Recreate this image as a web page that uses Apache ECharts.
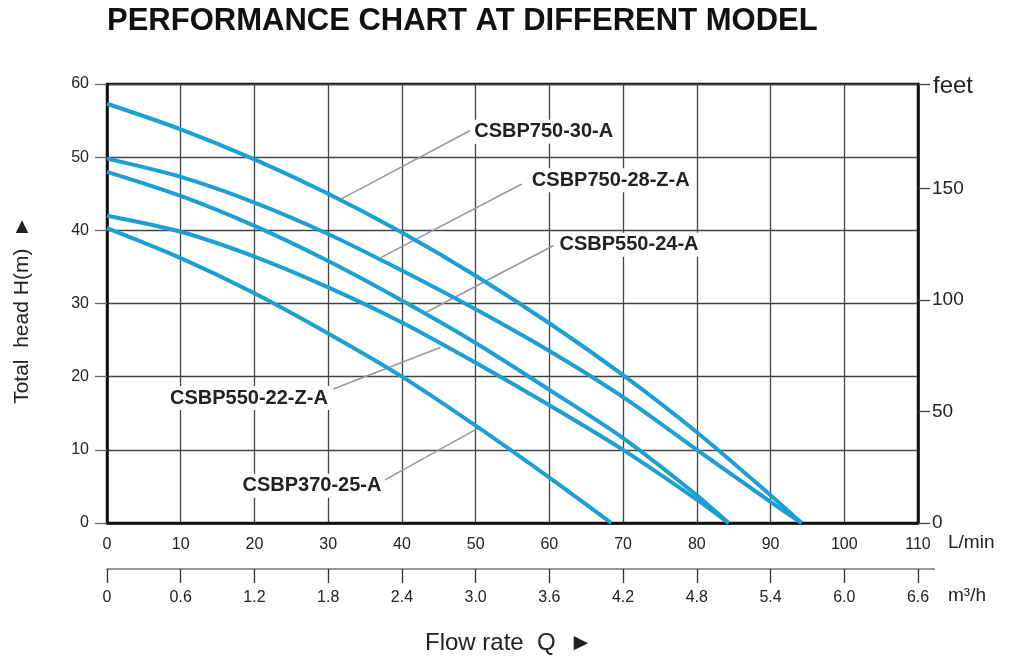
<!DOCTYPE html>
<html><head><meta charset="utf-8">
<script src="https://cdn.jsdelivr.net/npm/echarts@6/dist/echarts.min.js"></script>
<style>html,body{margin:0;padding:0;background:#fff}#c{width:1011px;height:660px}</style>
</head><body><div id="c"></div>
<script>
// ---- data (flow in L/min, head in m) ----
const modelNames = ['CSBP750-30-A','CSBP750-28-Z-A','CSBP550-24-A','CSBP550-22-Z-A','CSBP370-25-A'];
const curve750_30   = [[0,57.3],[10,53.8],[20,49.7],[30,45.0],[40,39.7],[50,33.8],[60,27.3],[70,20.2],[80,12.4],[90,3.8],[94.2,0]];
const curve750_28Z  = [[0,49.8],[10,47.3],[20,43.8],[30,39.5],[40,34.5],[50,29.2],[60,23.5],[70,17.2],[80,10.0],[90,2.9],[94.2,0]];
const curve550_24   = [[0,48.0],[10,44.7],[20,40.6],[30,35.8],[40,30.4],[50,24.6],[60,18.2],[70,11.6],[80,3.8],[84.3,0]];
const curve550_22Z  = [[0,42.0],[10,39.8],[20,36.4],[30,32.2],[40,27.4],[50,21.9],[60,16.1],[70,10.0],[80,3.2],[84.3,0]];
const curve370_25   = [[0,40.3],[10,36.2],[20,31.4],[30,25.9],[40,20.0],[50,13.3],[60,6.2],[68.4,0]];
// leader lines: [point on curve, label anchor] in (L/min, m)
const leader750_30  = [[31.6,44.2],[49.2,53.6]];
const leader750_28Z = [[37.2,36.3],[56.2,46.3]];
const leader550_24  = [[43.3,28.8],[60.5,37.9]];
const leader550_22Z = [[45.2,24.0],[30.7,18.3]];
const leader370_25  = [[50.6,13.1],[37.7,5.9]];
// axis ranges
const flowLminMax = 110, flowLminStep = 10;
const flowM3hMax = 6.6, flowM3hStep = 0.6;
const headMax = 60, headStep = 10;
const feetPerMetre = 3.28084, feetStep = 50;

const FONT = 'Liberation Sans, Arial, sans-serif';
const curveColor = '#1c9fd3';
const curves = [curve750_30, curve750_28Z, curve550_24, curve550_22Z, curve370_25];
const leaders = [leader750_30, leader750_28Z, leader550_24, leader550_22Z, leader370_25];
const leaderLabelCfg = [
  {position:'right', distance:1, offset:[0,1]},
  {position:'right', distance:7, offset:[0,-4]},
  {position:'right', distance:3, offset:[0,-1]},
  {position:'left', distance:2, offset:[0,9]},
  {position:'left', distance:0, offset:[0,6]}
];

const series = [];
curves.forEach((c,i)=>{
  series.push({type:'line', name:modelNames[i], data:c, smooth:0.3, symbol:'none',
    xAxisIndex:0, yAxisIndex:0, silent:true, z:5,
    lineStyle:{color:curveColor, width:4}});
});
leaders.forEach((l,i)=>{
  const cfg = leaderLabelCfg[i];
  series.push({type:'line', data:[
      {value:l[0]},
      {value:l[1], label:{show:true, formatter:modelNames[i], position:cfg.position, distance:cfg.distance, offset:cfg.offset,
        fontFamily:FONT, fontSize:20, fontWeight:'bold', color:'#222', backgroundColor:'#fff', padding:[2,3]}}
    ],
    symbol:'circle', symbolSize:1, showSymbol:true, itemStyle:{color:'#999'},
    xAxisIndex:0, yAxisIndex:0, silent:true, z:4, animation:false,
    lineStyle:{color:'#999', width:1.6}});
});

const chart = echarts.init(document.getElementById('c'));
const gridCol = '#444';
chart.setOption({
  animation:false,
  backgroundColor:'#fff',
  grid:{left:107, top:84, right:93, bottom:137, containLabel:false, show:true, borderColor:'#111', borderWidth:2.5, backgroundColor:'transparent'},
  xAxis:[
    {type:'value', min:0, max:flowLminMax, interval:flowLminStep, position:'bottom',
     axisLine:{show:true, onZero:false, lineStyle:{color:'#111', width:2.5}}, axisTick:{show:false},
     axisLabel:{margin:14, fontSize:16, color:'#222', fontFamily:FONT},
     splitLine:{show:true, lineStyle:{color:gridCol, width:1.3}}},
    {type:'value', min:0, max:flowM3hMax, interval:flowM3hStep, position:'bottom', offset:46,
     axisLine:{show:true, onZero:false, lineStyle:{color:'#777', width:1.5}},
     axisTick:{show:true, inside:false, length:14, lineStyle:{color:'#333', width:1.3}},
     axisLabel:{margin:21, fontSize:16, color:'#222', fontFamily:FONT,
       formatter:v=> (Math.abs(v)<1e-9 ? '0' : (Math.round(v*10)/10).toFixed(1))},
     splitLine:{show:false}}
  ],
  yAxis:[
    {type:'value', min:0, max:headMax, interval:headStep, position:'left',
     axisLine:{show:true, onZero:false, lineStyle:{color:'#111', width:2.5}},
     axisTick:{show:true, length:12, lineStyle:{color:'#666', width:1.3}},
     axisLabel:{margin:18, fontSize:16, color:'#222', fontFamily:FONT},
     splitLine:{show:true, lineStyle:{color:gridCol, width:1.3}}},
    {type:'value', min:0, max:headMax*feetPerMetre, interval:feetStep, position:'right',
     axisLine:{show:true, onZero:false, lineStyle:{color:'#111', width:2.5}},
     axisTick:{show:true, length:12, lineStyle:{color:'#444', width:1.3}},
     axisLabel:{margin:14, fontSize:19, color:'#222', fontFamily:FONT,
       formatter:v=> (Math.abs(v % feetStep) < 1e-6 ? String(Math.round(v)) : '')},
     splitLine:{show:false}}
  ],
  series:series,
  graphic:[
    {type:'text', left:107, top:6, style:{text:'PERFORMANCE CHART AT DIFFERENT MODEL', font:'bold 31px '+FONT, fill:'#111'}},
    {type:'text', x:933, y:86, style:{text:'feet', font:'24px '+FONT, fill:'#222', textVerticalAlign:'middle'}},
    {type:'text', x:948, y:543, style:{text:'L/min', font:'19px '+FONT, fill:'#222', textVerticalAlign:'middle'}},
    {type:'text', x:948, y:596, style:{text:'m³/h', font:'19px '+FONT, fill:'#222', textVerticalAlign:'middle'}},
    {type:'text', x:425, y:643, style:{text:'Flow rate  Q  ►', font:'24px '+FONT, fill:'#222', textVerticalAlign:'middle'}},
    {type:'text', x:22, y:310, rotation:Math.PI/2, style:{text:'Total  head H(m)  ►', font:'21px '+FONT, fill:'#222', textAlign:'center', textVerticalAlign:'middle'}},
    {type:'line', shape:{x1:918, y1:569, x2:935, y2:569}, style:{stroke:'#777', lineWidth:1.5}}
  ]
});
</script></body></html>
